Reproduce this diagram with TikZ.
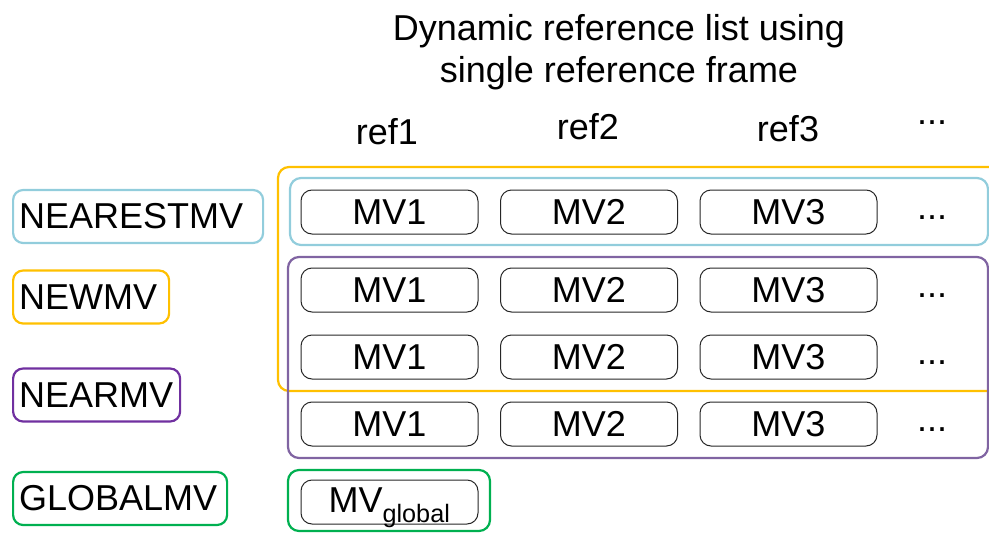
\documentclass[tikz,border=0pt]{standalone}
\usepackage{fontspec}
\setmainfont{Liberation Sans}
\usetikzlibrary{positioning}
\definecolor{nearestc}{RGB}{146,205,220}
\definecolor{newc}{RGB}{255,192,0}
\definecolor{nearc}{RGB}{112,48,160}
\definecolor{nearbox}{RGB}{128,100,162}
\definecolor{globalc}{RGB}{0,176,80}
\tikzset{every node/.style = {font=\fontsize{36}{42}\selectfont}}
\tikzset{mvbox/.style = {draw=black!85, line width=1pt, rounded corners=11pt,
                         minimum width=177pt, minimum height=44pt, inner sep=0pt}}
\tikzset{modelabel/.style 2 args = {draw=#1, line width=2.2pt, rounded corners=10pt,
                         anchor=west, align=left, text width=#2-12pt, inner xsep=6pt,
                         minimum height=53pt, inner ysep=0pt}}
\tikzset{groupline/.style = {draw=#1, line width=2.2pt, rounded corners=11pt}}

\begin{document}
\begin{tikzpicture}[x=1pt, y=-1pt]
				\clip (0,0) rectangle (989,533);
				% title and column heads
				\node[align=center] (title) at (619,52) {Dynamic reference list using\\single reference frame};
				\node (ref1) at (387,132) {ref1};
				\node (ref2) at (588,127) {ref2};
				\node (ref3) at (788,129) {ref3};
				\node (refdots) at (932,123) {...};
				% mode labels
				\node[modelabel={nearestc}{250pt}] (nearest) at (12,216.5) {NEARESTMV};
				\node[modelabel={newc}{156pt}] (newmv) at (12,297) {NEWMV};
				\node[modelabel={nearc}{167pt}] (nearmv) at (12,395) {NEARMV};
				\node[modelabel={globalc}{214pt}] (globalmv) at (12,498.5) {GLOBALMV};
				% candidate rows
				\foreach \r/\y in {1/212, 2/290, 3/357, 4/424} {
					\node[mvbox] (m\r1) at (389.5,\y) {MV1};
					\node[mvbox] (m\r2) at (589,\y) {MV2};
					\node[mvbox] (m\r3) at (788.5,\y) {MV3};
					\node (d\r) at (932,\y+6) {...};
				}
				\node[mvbox, text depth=3pt] (mglobal) at (389.5,502) {MV\textsubscript{global}};
				% groups
				\draw[groupline=newc] (1000,167) -- (278,167) -- (278,391) -- (1000,391);
				\draw[groupline=nearestc] (290,178) rectangle (988,245);
				\draw[groupline=nearbox] (288,257) rectangle (988,458);
				\draw[groupline=globalc] (288,470) rectangle (490,531);
		\end{tikzpicture}
\end{document}
